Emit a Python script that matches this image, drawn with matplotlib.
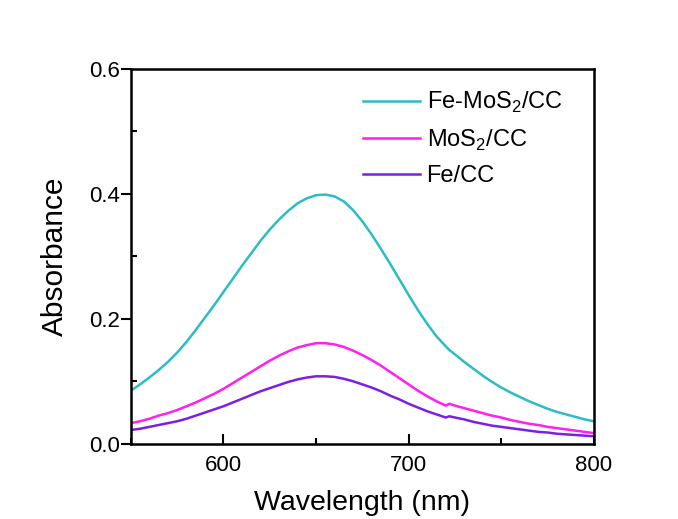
import matplotlib
matplotlib.use("Agg")
import matplotlib.pyplot as plt
from matplotlib.ticker import MultipleLocator

plt.rcParams['font.family'] = ['Liberation Sans', 'DejaVu Sans']
plt.rcParams['mathtext.fontset'] = 'custom'
plt.rcParams['mathtext.rm'] = 'Liberation Sans'

# wavelength (nm)
wl = [550, 555, 560, 565, 570, 575, 580, 585, 590, 595, 600, 605, 610, 615,
      620, 625, 630, 635, 640, 645, 650, 655, 660, 665, 670, 675, 680, 685,
      690, 695, 700, 705, 710, 715, 720, 722, 725, 730, 735, 740, 745, 750,
      755, 760, 765, 770, 775, 780, 785, 790, 795, 800]

fe_mos2 = [0.085, 0.095, 0.106, 0.118, 0.131, 0.146, 0.163, 0.182, 0.202,
           0.222, 0.243, 0.264, 0.285, 0.305, 0.325, 0.343, 0.359, 0.373,
           0.385, 0.393, 0.398, 0.399, 0.396, 0.388, 0.374, 0.356, 0.335,
           0.312, 0.288, 0.263, 0.238, 0.214, 0.192, 0.172, 0.156, 0.150,
           0.143, 0.131, 0.120, 0.109, 0.099, 0.090, 0.082, 0.075, 0.068,
           0.062, 0.056, 0.051, 0.047, 0.043, 0.039, 0.036]
mos2 = [0.033, 0.036, 0.040, 0.045, 0.049, 0.054, 0.060, 0.066, 0.073,
        0.080, 0.088, 0.097, 0.106, 0.115, 0.124, 0.133, 0.141, 0.148,
        0.154, 0.158, 0.161, 0.161, 0.159, 0.155, 0.149, 0.142, 0.134,
        0.125, 0.115, 0.105, 0.095, 0.085, 0.076, 0.068, 0.061, 0.064,
        0.061, 0.057, 0.053, 0.049, 0.045, 0.042, 0.038, 0.035, 0.032,
        0.030, 0.027, 0.025, 0.023, 0.021, 0.019, 0.017]
fe = [0.022, 0.024, 0.027, 0.030, 0.033, 0.036, 0.040, 0.045, 0.050,
      0.055, 0.060, 0.066, 0.072, 0.078, 0.084, 0.089, 0.094, 0.099,
      0.103, 0.106, 0.108, 0.108, 0.107, 0.104, 0.100, 0.095, 0.090,
      0.084, 0.077, 0.071, 0.064, 0.058, 0.052, 0.047, 0.042, 0.044,
      0.042, 0.039, 0.035, 0.032, 0.029, 0.027, 0.025, 0.023, 0.021,
      0.019, 0.018, 0.016, 0.015, 0.014, 0.013, 0.012]

labels = [r"Fe-MoS$_2$/CC", r"MoS$_2$/CC", "Fe/CC"]
colors = ["#2bbdc6", "#ff1ff0", "#7b1fe6"]

fig = plt.figure(figsize=(6.78, 5.19), dpi=100)
ax = fig.add_axes([0.193, 0.145, 0.683, 0.722])

for y, lab, c in zip([fe_mos2, mos2, fe], labels, colors):
    ax.plot(wl, y, color=c, lw=1.8, label=lab)

ax.set_xlim(550, 800)
ax.set_ylim(0, 0.6)
ax.xaxis.set_minor_locator(MultipleLocator(50))
ax.yaxis.set_minor_locator(MultipleLocator(0.1))
ax.set_xticks([600, 700, 800])
ax.set_yticks([0.0, 0.2, 0.4, 0.6])
ax.set_yticklabels(["0.0", "0.2", "0.4", "0.6"])

ax.tick_params(axis='x', which='major', direction='in', length=7, width=1.5,
               labelsize=16, pad=8)
ax.tick_params(axis='x', which='minor', direction='in', length=4, width=1.5)
ax.tick_params(axis='y', which='major', direction='out', length=7, width=1.5,
               labelsize=16, pad=1)
ax.tick_params(axis='y', which='minor', direction='in', length=4, width=1.5)
for s in ax.spines.values():
    s.set_linewidth(1.8)

ax.set_xlabel("Wavelength (nm)", fontsize=20.5, labelpad=10)
ax.set_ylabel("Absorbance", fontsize=21.5, labelpad=14)

ax.legend(loc='upper left', bbox_to_anchor=(0.501, 0.944), frameon=False,
          fontsize=17, handlelength=2.4, handletextpad=0.3, labelspacing=0.53,
          borderpad=0, borderaxespad=0)

fig.savefig("out.png", dpi=100)
